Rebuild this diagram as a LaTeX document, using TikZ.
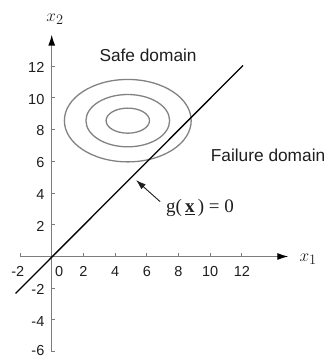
\documentclass[tikz,border=0pt]{standalone}
\usepackage{fontspec}
\setmainfont{Liberation Serif}
\setsansfont{Liberation Sans}
\usetikzlibrary{arrows.meta}
\definecolor{axisgray}{RGB}{125,125,125}
\definecolor{ellgray}{RGB}{130,130,130}
\definecolor{txt}{RGB}{30,30,30}
\tikzset{
  axisline/.style={draw=axisgray, line width=1.2pt},
  tickmark/.style={draw=axisgray, line width=1pt},
  ticklab/.style={font=\sffamily\fontsize{14.5}{16}\selectfont, text=txt, inner sep=0pt},
  domlab/.style={font=\sffamily\fontsize{17.3}{19}\selectfont, text=txt, inner sep=0pt},
  varlab/.style={font=\rmfamily\fontsize{19}{21}\selectfont, text=txt, inner sep=0pt},
  contour/.style={draw=ellgray, line width=1.3pt},
  limitline/.style={draw=black, line width=1.3pt},
  axtip/.style={-{Latex[length=11pt,width=7pt,color=black]}},
  pointer/.style={draw=txt, line width=0.9pt, -{Latex[length=10pt,width=6.5pt]}}
}
\begin{document}
\begin{tikzpicture}[x=15.85pt,y=15.85pt]
\useasboundingbox (-3.262,-6.341) rectangle (17.306,16.183);
% axes
\coordinate (xa) at (-2,0);
\coordinate (xb) at (14.93,0);
\coordinate (ya) at (0,-6);
\coordinate (yb) at (0,14.0);
\draw[axisline, axtip] (xa) -- (xb);
\draw[axisline, axtip] (ya) -- (yb);
\foreach \t in {-2,2,4,...,12} {\draw[tickmark] (\t,0) -- (\t,0.25);}
\foreach \t in {-6,-4,...,12} {\draw[tickmark] (0,\t) -- (0.2,\t);}
% x tick labels
\node[ticklab] (tm2) at (-2.14,-0.96) {-2};
\node[ticklab] (t0) at (0.47,-0.96) {0};
\foreach \t in {2,4,...,12} {\node[ticklab] (tx\t) at (\t,-0.96) {\t};}
% y tick labels
\foreach \t in {-4,-2,2,4,...,12} {\node[ticklab, anchor=east] (ty\t) at (-0.45,\t-0.08) {\t};}
\node[ticklab, anchor=east] (tym6) at (-0.45,-5.9) {-6};
% axis labels
\node[varlab] (x2) at (0.21,14.98) {$x_2$};
\node[varlab] (x1) at (16.18,-0.16) {$x_1$};
% contours
\draw[contour] (4.8,8.57) ellipse [x radius=4.0, y radius=2.6];
\draw[contour] (4.8,8.57) ellipse [x radius=2.64, y radius=1.65];
\draw[contour] (4.8,8.57) ellipse [x radius=1.37, y radius=0.79];
% limit state line
\coordinate (la) at (-2.28,-2.33);
\coordinate (lb) at (12.07,12.05);
\draw[limitline] (la) -- (lb);
% labels
\node[domlab] (safe) at (6.08,12.71) {Safe domain};
\node[domlab] (fail) at (13.65,6.40) {Failure domain};
\node[varlab] (g) at (9.36,3.06) {g(\,$\underline{\mathbf{x}}$\,) = 0};
\coordinate (tail) at (6.84,3.46);
\coordinate (tip) at (5.32,4.82);
\draw[pointer] (tail) -- (tip);
\end{tikzpicture}
\end{document}
